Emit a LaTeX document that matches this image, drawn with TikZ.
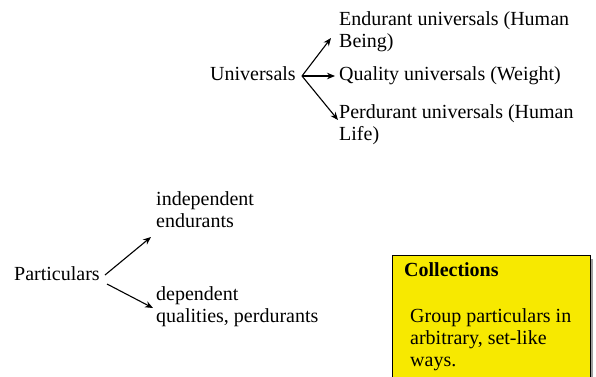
\documentclass[tikz,border=0pt]{standalone}
\usepackage{fontspec}
\setmainfont{Liberation Serif}
\usetikzlibrary{arrows.meta}
\definecolor{noteyellow}{RGB}{247,233,0}
\begin{document}
\begin{tikzpicture}[x=1pt,y=1pt,
  lbl/.style={inner sep=0pt,anchor=base west,align=left,
    font=\fontsize{20}{22}\selectfont},
  arr/.style={line width=1.1pt,-{Stealth[length=8pt,width=6.5pt]}}]
\useasboundingbox (0,0) rectangle (596,376);

% upper tree: universals (base anchor sits on the last line)
\node[lbl] (univ) at (210,296) {Universals};
\node[lbl] (endur) at (339,329) {Endurant universals (Human\\Being)};
\node[lbl] (qual) at (339,296) {Quality universals (Weight)};
\node[lbl] (perd) at (339,236) {Perdurant universals (Human\\Life)};
\coordinate (ufork) at (302,300);
\coordinate (uend1) at (331,338);
\coordinate (uend2) at (335,300);
\coordinate (uend3) at (338,256);
\draw[arr] (ufork) -- (uend1);
\draw[arr] (ufork) -- (uend2);
\draw[arr] (ufork) -- (uend3);

% lower tree: particulars
\node[lbl] (part) at (14,96) {Particulars};
\node[lbl] (indep) at (156,149) {independent\\endurants};
\node[lbl] (dep) at (156,54) {dependent\\qualities, perdurants};
\coordinate (pfork1) at (105,101);
\coordinate (pfork2) at (107,92);
\coordinate (pend1) at (151,139);
\coordinate (pend2) at (153,68);
\draw[arr] (pfork1) -- (pend1);
\draw[arr] (pfork2) -- (pend2);

% note box with a thin drop shadow on its right
\fill[gray!75] (393,-5) rectangle (592.5,117);
\draw[fill=noteyellow,line width=1pt] (392,-5) rectangle (590,121);
\node[lbl,font=\fontsize{20}{22}\selectfont\bfseries] (coll) at (404,100) {Collections};
\node[lbl] (group) at (410,10) {Group particulars in\\arbitrary, set-like\\ways.};
\end{tikzpicture}
\end{document}
